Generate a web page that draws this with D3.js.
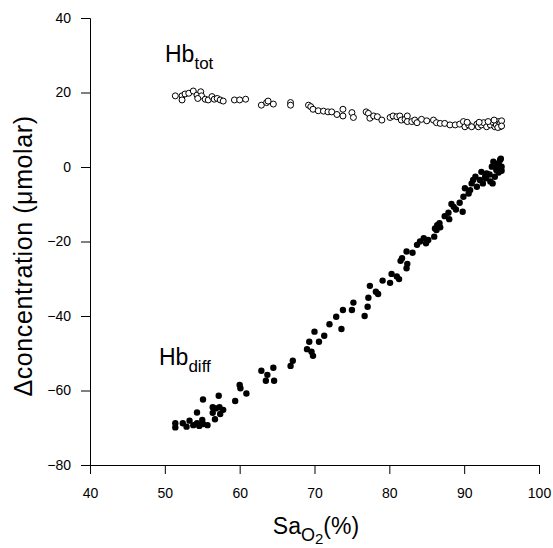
<!DOCTYPE html>
<html>
<head>
<meta charset="utf-8">
<script src="https://cdn.jsdelivr.net/npm/d3@7"></script>
<style>
  body { margin: 0; background: #fff; }
  svg { font-family: "Liberation Sans", Arial, sans-serif; }
</style>
</head>
<body>
<div id="chart"></div>
<script>
// Hb_tot (open circles): SaO2 and concentration
const satTot = [51.4, 52.3, 52.3, 52.7, 53.2, 53.8, 54.3, 54.8, 54.9, 54.4, 55.4, 55.8,
  56.3, 56.6, 57.0, 57.4, 57.8, 59.3, 60.0, 60.8, 62.9, 63.6, 63.8, 64.5, 66.8, 66.8,
  69.2, 69.5, 69.8, 70.5, 71.2, 71.8, 72.3, 73.0, 73.8, 73.8, 75.0, 75.2,
  76.9, 77.2, 77.4, 77.9, 78.4, 79.0, 80.1, 80.5, 81.0, 81.4, 81.6, 82.1, 82.4, 82.4,
  83.0, 83.4, 83.7, 84.3, 85.0, 85.9, 86.3, 86.8, 87.4, 88.1, 88.8, 89.4, 89.9, 90.1,
  90.6, 91.0, 91.7, 91.9, 92.3, 92.6, 93.0, 93.5, 93.9, 94.1, 94.3, 94.6, 94.8, 94.8, 95.0,
  92.0, 93.2, 94.0, 94.5, 95.0, 90.4];
const hbTot = [19.1, 19.1, 18.0, 19.6, 19.8, 20.4, 19.3, 20.2, 19.1, 18.4, 18.2, 18.0,
  18.9, 18.2, 18.4, 18.0, 17.7, 18.0, 18.0, 18.2, 16.6, 17.3, 17.7, 16.9, 17.3, 16.6,
  16.6, 16.2, 15.5, 15.1, 15.0, 14.8, 14.8, 14.1, 15.5, 13.7, 14.6, 13.3,
  14.8, 14.4, 13.1, 13.7, 13.5, 12.6, 13.3, 13.7, 13.5, 13.7, 12.6, 12.8, 13.7, 12.2,
  12.2, 12.6, 11.9, 12.8, 12.4, 12.6, 11.9, 11.7, 11.7, 11.3, 11.3, 11.5, 12.2, 10.8,
  11.3, 10.8, 11.5, 10.8, 11.3, 11.9, 10.8, 11.3, 11.9, 10.8, 11.3, 12.2, 11.7, 10.8, 12.4,
  12.0, 12.2, 12.6, 10.6, 11.0, 12.0];

// Hb_diff (filled circles)
const satDiff = [51.4, 51.4, 52.4, 52.9, 53.3, 53.8, 54.3, 54.6, 55.0, 55.1, 55.7, 54.3,
  55.1, 56.7, 56.4, 56.8, 57.3, 57.8, 57.4, 56.4, 57.2, 59.4, 60.0, 60.1, 60.9,
  62.9, 63.7, 63.5, 64.5, 64.6, 66.8, 67.1, 69.0, 69.6, 69.8, 69.3, 70.6, 70.0, 71.3, 72.0,
  73.6, 72.9, 73.8, 75.0, 75.2, 76.7, 77.1, 77.4, 77.2, 78.2, 78.5, 79.1, 80.1, 80.3,
  81.0, 81.3, 81.7, 81.5, 82.3, 82.4, 82.3, 83.1, 83.7, 84.1, 84.6, 84.9, 85.2, 86.0,
  86.1, 86.4, 86.3, 86.8, 86.7, 87.4, 88.0, 87.9, 88.3, 88.6, 88.9, 89.8, 89.4,
  89.9, 90.1, 90.6, 90.8, 91.0, 91.2, 91.7, 91.5, 92.1, 92.3, 92.8, 92.5, 93.0, 93.5,
  93.7, 93.9, 94.3, 94.6, 94.8, 95.0, 94.1, 93.8, 94.6, 95.0, 94.9, 94.4, 93.4, 92.9];
const hbDiff = [-68.8, -69.9, -68.8, -69.7, -68.1, -69.3, -68.8, -69.5, -67.9, -69.0, -69.3, -65.9,
  -62.4, -67.7, -64.5, -64.8, -64.5, -65.2, -66.3, -66.0, -61.4, -62.8, -58.5, -59.4, -60.8,
  -54.7, -55.8, -57.4, -53.9, -57.4, -53.4, -52.0, -48.9, -49.6, -50.7, -46.9, -46.9, -44.2, -45.3, -42.2,
  -43.5, -40.2, -38.4, -38.4, -36.4, -40.0, -37.5, -31.9, -35.1, -33.5, -34.1, -30.5, -31.1, -28.7,
  -29.4, -30.1, -24.5, -25.2, -22.7, -26.0, -27.2, -23.0, -20.9, -20.0, -19.1, -20.5, -19.6, -18.7,
  -16.5, -15.6, -16.9, -16.2, -15.1, -13.2, -14.0, -12.3, -9.9, -10.7, -11.4, -12.0, -9.6,
  -8.0, -5.7, -7.1, -6.2, -4.4, -3.5, -5.3, -2.6, -3.5, -1.3, -2.6, -4.4, -1.7, -3.9,
  0.1, 1.4, -0.8, 1.0, 1.9, 0.1, -2.6, -4.4, -1.5, -1.0, 2.2, 0.5, -2.0, -3.0];

const xTicks = [40, 50, 60, 70, 80, 90, 100];
const yTicks = [-80, -60, -40, -20, 0, 20, 40];

const margin = { top: 18, right: 14, bottom: 83, left: 90 };
const W = 553, H = 548;
const width = W - margin.left - margin.right;
const height = H - margin.top - margin.bottom;

const svg = d3.select("#chart").append("svg")
  .attr("width", W)
  .attr("height", H);

const g = svg.append("g")
  .attr("transform", `translate(${margin.left},${margin.top})`);

const x = d3.scaleLinear().domain([40, 100]).range([0, width]);
const y = d3.scaleLinear().domain([-80, 40]).range([height, 0]);

g.append("g")
  .attr("transform", `translate(0,${height})`)
  .call(d3.axisBottom(x).tickValues(xTicks).tickSizeOuter(0).tickSize(9).tickPadding(14));

g.append("g")
  .call(d3.axisLeft(y).tickValues(yTicks).tickSizeOuter(0).tickSize(9).tickPadding(10));

g.selectAll(".tick text").attr("font-size", "14px").attr("fill", "#000")
  .attr("font-family", "Liberation Sans, Arial, sans-serif");
g.selectAll(".domain, .tick line").attr("stroke", "#000");

// points
g.selectAll(".diff").data(satDiff).enter().append("circle")
  .attr("class", "diff")
  .attr("cx", d => x(d))
  .attr("cy", (d, i) => y(hbDiff[i]))
  .attr("r", 3.2)
  .attr("fill", "#000");

g.selectAll(".tot").data(satTot).enter().append("circle")
  .attr("class", "tot")
  .attr("cx", d => x(d))
  .attr("cy", (d, i) => y(hbTot[i]))
  .attr("r", 3)
  .attr("fill", "#fff")
  .attr("stroke", "#000")
  .attr("stroke-width", 1);

// series labels
const totLabel = svg.append("text").attr("x", 165).attr("y", 62).attr("font-size", "23px");
totLabel.append("tspan").text("Hb");
totLabel.append("tspan").attr("dy", 7).attr("font-size", "17px").text("tot");

const diffLabel = svg.append("text").attr("x", 159).attr("y", 365).attr("font-size", "23px");
diffLabel.append("tspan").text("Hb");
diffLabel.append("tspan").attr("dy", 7).attr("font-size", "17px").text("diff");

// axis titles
const xTitle = svg.append("text")
  .attr("x", 316)
  .attr("y", 534)
  .attr("text-anchor", "middle")
  .attr("font-size", "23px");
xTitle.append("tspan").text("Sa");
xTitle.append("tspan").attr("dy", 7).attr("font-size", "18px").text("O");
xTitle.append("tspan").attr("dy", 3).attr("font-size", "15px").text("2");
xTitle.append("tspan").attr("dy", -10).text("(%)");

svg.append("text")
  .attr("transform", "translate(32,256) rotate(-90)")
  .attr("text-anchor", "middle")
  .attr("font-size", "25px")
  .attr("letter-spacing", "0.6px")
  .text("\u0394concentration (\u03bcmolar)");
</script>
</body>
</html>
